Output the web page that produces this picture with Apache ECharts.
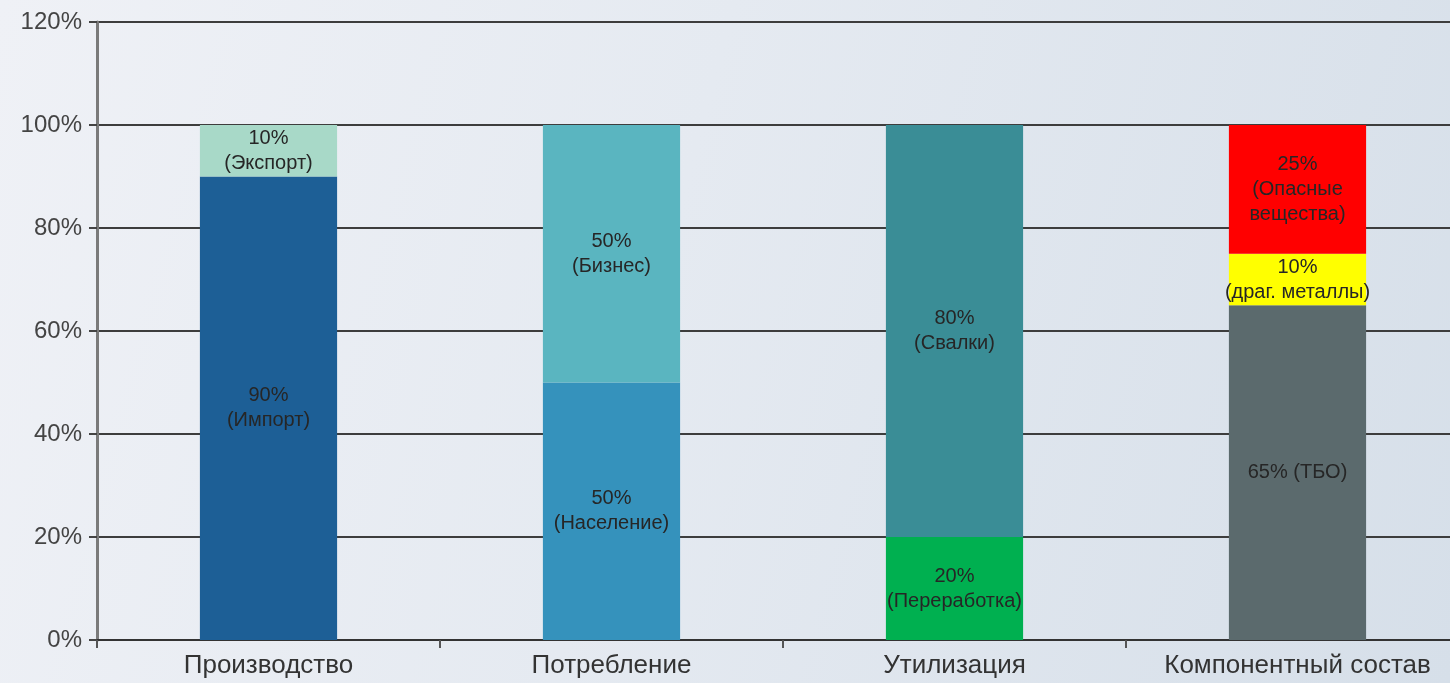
<!DOCTYPE html>
<html>
<head>
<meta charset="utf-8">
<script src="https://cdn.jsdelivr.net/npm/echarts@6/dist/echarts.min.js"></script>
<style>
  html, body { margin: 0; padding: 0; }
  #chart {
    width: 1450px; height: 683px;
    background: linear-gradient(105deg, #eff1f6 0%, #e5eaf1 45%, #d6dfe9 100%);
  }
</style>
</head>
<body>
<div id="chart"></div>
<script>
// категории
var categories = ['Производство', 'Потребление', 'Утилизация', 'Компонентный состав'];

// нижний сегмент
var bottomValues = [90, 50, 20, 65];
var bottomLabels = ['90%\n(Импорт)', '50%\n(Население)', '20%\n(Переработка)', '65% (ТБО)'];
var bottomColors = ['#1d5f96', '#3592bc', '#00b050', '#5b6a6d'];

// средний сегмент
var middleValues = [10, 50, 80, 10];
var middleLabels = ['10%\n(Экспорт)', '50%\n(Бизнес)', '80%\n(Свалки)', '10%\n(драг. металлы)'];
var middleColors = ['#a8d9c8', '#5ab5c0', '#3a8d96', '#ffff00'];

// верхний сегмент
var topValues = [null, null, null, 25];
var topLabels = ['', '', '', '25%\n(Опасные\nвещества)'];
var topColors = ['#ff0000', '#ff0000', '#ff0000', '#ff0000'];

var yTicks = [0, 20, 40, 60, 80, 100, 120];

function makeSeries(values, labels, colors) {
  return {
    type: 'bar',
    stack: 'total',
    barWidth: '40%',
    data: values.map(function (v, i) {
      return {
        value: v,
        itemStyle: { color: colors[i] },
        label: { formatter: labels[i] }
      };
    }),
    label: {
      show: true,
      position: 'inside',
      color: '#262626',
      fontFamily: 'Liberation Sans, Arial',
      fontSize: 20,
      lineHeight: 25
    }
  };
}

var chart = echarts.init(document.getElementById('chart'));
chart.setOption({
  animation: false,
  // сетка шире окна: последняя категория обрезана справа
  grid: {
    left: 97, top: 22, height: 618, width: 1372,
    containLabel: false,
    outerBoundsMode: 'none'
  },
  xAxis: {
    type: 'category',
    data: categories,
    axisLine: { lineStyle: { color: '#333', width: 2 } },
    axisTick: { show: true, length: 8, lineStyle: { color: '#555', width: 2 } },
    axisLabel: {
      interval: 0,
      hideOverlap: false,
      color: '#333',
      fontFamily: 'Liberation Sans, Arial',
      fontSize: 26,
      margin: 13
    }
  },
  yAxis: {
    type: 'value',
    min: yTicks[0],
    max: yTicks[yTicks.length - 1],
    interval: 20,
    axisLine: { show: true, lineStyle: { color: '#7a7a7a', width: 3 } },
    axisTick: { show: true, length: 8, lineStyle: { color: '#444', width: 2 } },
    axisLabel: {
      formatter: '{value}%',
      color: '#444',
      fontFamily: 'Liberation Sans, Arial',
      fontSize: 24,
      margin: 15
    },
    splitLine: { lineStyle: { color: '#3d3d3d', width: 2 } }
  },
  series: [
    makeSeries(bottomValues, bottomLabels, bottomColors),
    makeSeries(middleValues, middleLabels, middleColors),
    makeSeries(topValues, topLabels, topColors)
  ]
});
</script>
</body>
</html>
